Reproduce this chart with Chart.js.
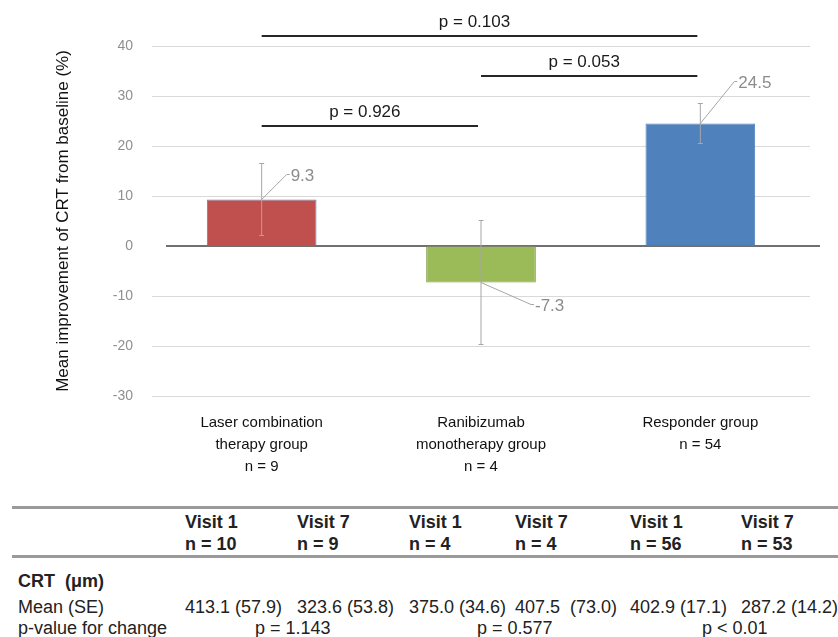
<!DOCTYPE html>
<html>
<head>
<meta charset="utf-8">
<script src="https://cdn.jsdelivr.net/npm/chart.js@4.4.1/dist/chart.umd.min.js"></script>
<style>
  body { margin: 0; background: #fff; font-family: "Liberation Sans", Arial, sans-serif; }
  #wrap { position: relative; width: 838px; height: 637px; overflow: hidden; }
  #chart { position: absolute; left: 0; top: 0; }
  table.crt { position: absolute; left: 12px; top: 506px; width: 826px; border-collapse: collapse;
              table-layout: fixed; font-size: 18px; color: #222; }
  table.crt th, table.crt td { padding: 0; text-align: left; line-height: 22px; white-space: nowrap; }
  table.crt thead th { border-top: 3px solid #9a9a9a; border-bottom: 3px solid #9a9a9a; padding: 2px 0 0 0; }
  table.crt td.lab { padding-left: 6px; }
  table.crt tr.crtrow td { padding-top: 12px; font-weight: bold; }
  table.crt tr.meanrow td { padding-top: 4px; }
  table.crt tr.prow td { line-height: 21px; }
</style>
</head>
<body>
<div id="wrap">
  <canvas id="chart" width="838" height="500"></canvas>
  <table class="crt" id="crtTable"></table>
</div>
<script>
// chart data
const categories = [
  ["Laser combination", "therapy group", "n = 9"],
  ["Ranibizumab", "monotherapy group", "n = 4"],
  ["Responder group", "n = 54"]
];
const meanImprovement = [9.3, -7.3, 24.5];
const standardErrors = [7.2, 12.4, 4.0];
const barColors = ["#c0504d", "#9bbb59", "#4f81bd"];
const barBorders = ["#5f7fc0", "#7d9a48", "#4f81bd"];
const comparisons = [
  { from: 0, to: 2, label: "p = 0.103" },
  { from: 1, to: 2, label: "p = 0.053" },
  { from: 0, to: 1, label: "p = 0.926" }
];

// table data
const visitColumns = [
  ["Visit 1", "n = 10"], ["Visit 7", "n = 9"],
  ["Visit 1", "n = 4"], ["Visit 7", "n = 4"],
  ["Visit 1", "n = 56"], ["Visit 7", "n = 53"]
];
const crtMeanSE = ["413.1 (57.9)", "323.6 (53.8)", "375.0 (34.6)", "407.5\u00a0 (73.0)", "402.9 (17.1)", "287.2 (14.2)"];
const changePValues = ["p = 1.143", "p = 0.577", "p < 0.01"];

const FONT = '"Liberation Sans", Arial, sans-serif';

// error bars, leader labels, zero line and p-value brackets
const annotate = {
  id: "annotate",
  beforeDatasetsDraw(chart) {
    const { ctx, chartArea, scales: { y } } = chart;
    const y0 = y.getPixelForValue(0);
    ctx.save();
    ctx.strokeStyle = "#404040";
    ctx.lineWidth = 1.5;
    ctx.beginPath();
    ctx.moveTo(chartArea.left + 14, y0);
    ctx.lineTo(chartArea.right + 10, y0);
    ctx.stroke();
    ctx.restore();
  },
  afterDatasetsDraw(chart, args, opts) {
    const { ctx, scales: { x, y } } = chart;
    const bars = chart.getDatasetMeta(0).data;
    ctx.save();
    bars.forEach((bar, i) => {
      const v = meanImprovement[i], se = standardErrors[i];
      const hi = y.getPixelForValue(v + se), lo = y.getPixelForValue(v - se);
      ctx.strokeStyle = "#a6a6a6";
      ctx.lineWidth = 1;
      ctx.beginPath();
      ctx.moveTo(bar.x, hi); ctx.lineTo(bar.x, lo);
      ctx.moveTo(bar.x - 2.5, hi); ctx.lineTo(bar.x + 2.5, hi);
      ctx.moveTo(bar.x - 2.5, lo); ctx.lineTo(bar.x + 2.5, lo);
      ctx.stroke();

      const [dx, dy] = opts.labelOffsets[i];
      const ex = bar.x + dx, ey = bar.y + dy;
      ctx.beginPath();
      ctx.moveTo(bar.x, bar.y);
      ctx.lineTo(ex, ey);
      ctx.lineTo(ex + 3, ey);
      ctx.stroke();
      ctx.fillStyle = "#8c8c8c";
      ctx.font = "17px " + FONT;
      ctx.textAlign = "left";
      ctx.textBaseline = "middle";
      ctx.fillText(v.toFixed(1), ex + 4, ey + 2);
    });

    comparisons.forEach((c, i) => {
      const ly = y.getPixelForValue(opts.bracketLevels[i]);
      const x1 = x.getPixelForValue(c.from), x2 = x.getPixelForValue(c.to) - 3;
      ctx.strokeStyle = "#262626";
      ctx.lineWidth = 2;
      ctx.beginPath();
      ctx.moveTo(x1, ly); ctx.lineTo(x2, ly);
      ctx.stroke();
      ctx.fillStyle = "#1a1a1a";
      ctx.font = "17px " + FONT;
      ctx.textAlign = "center";
      ctx.textBaseline = "alphabetic";
      ctx.fillText(c.label, (x1 + x2) / 2 - 5, ly - 9);
    });
    ctx.restore();
  }
};

new Chart(document.getElementById("chart"), {
  type: "bar",
  data: {
    labels: categories,
    datasets: [{
      data: meanImprovement,
      backgroundColor: barColors,
      borderColor: barBorders,
      borderWidth: 1,
      barPercentage: 1,
      categoryPercentage: 0.5
    }]
  },
  options: {
    responsive: false,
    animation: false,
    font: { family: FONT },
    layout: { padding: { top: 46, right: 28, left: 0, bottom: 0 } },
    plugins: {
      legend: { display: false },
      tooltip: { enabled: false },
      annotate: {
        labelOffsets: [[25, -25], [50, 22], [34, -42]],
        bracketLevels: [42, 34, 24]
      }
    },
    scales: {
      x: {
        grid: { display: false, drawTicks: false },
        border: { display: false },
        ticks: {
          color: "#111",
          font: { family: FONT, size: 15, lineHeight: "22px" },
          padding: 16,
          maxRotation: 0,
          autoSkip: false
        },
        afterFit(s) { s.height = 104; }
      },
      y: {
        min: -30,
        max: 40,
        ticks: { stepSize: 10, color: "#8f8f8f", font: { family: FONT, size: 14 }, padding: 19 },
        grid: {
          drawTicks: false,
          color: c => (c.tick && c.tick.value === 0 ? "rgba(0,0,0,0)" : "#d9d9d9")
        },
        border: { display: false },
        title: {
          display: true,
          text: "Mean improvement of CRT from baseline (%)",
          color: "#111",
          font: { family: FONT, size: 17 },
          padding: { top: 53, bottom: 0 }
        },
        afterFit(s) { s.width = 152; }
      }
    }
  },
  plugins: [annotate]
});

// table below the chart
const colWidths = [173, 112, 112, 106, 115, 111, 97];
const table = document.getElementById("crtTable");
const cg = document.createElement("colgroup");
colWidths.forEach(w => { const c = document.createElement("col"); c.style.width = w + "px"; cg.appendChild(c); });
table.appendChild(cg);

const thead = document.createElement("thead");
const hr = document.createElement("tr");
hr.appendChild(document.createElement("th"));
visitColumns.forEach(v => {
  const th = document.createElement("th");
  th.innerHTML = v.join("<br>");
  hr.appendChild(th);
});
hr.appendChild(document.createElement("th"));
thead.appendChild(hr);
table.appendChild(thead);

const tbody = document.createElement("tbody");
const r1 = document.createElement("tr");
r1.className = "crtrow";
r1.innerHTML = '<td class="lab" colspan="7">CRT&nbsp; (\u03bcm)</td>';
tbody.appendChild(r1);

const r2 = document.createElement("tr");
r2.className = "meanrow";
r2.innerHTML = '<td class="lab">Mean (SE)</td>' + crtMeanSE.map(s => "<td>" + s + "</td>").join("") + "<td></td>";
tbody.appendChild(r2);

const pPad = [70, 68, 72];
const r3 = document.createElement("tr");
r3.className = "prow";
r3.innerHTML = '<td class="lab">p-value for change</td>' +
  changePValues.map((p, i) => '<td colspan="2" style="padding-left:' + pPad[i] + 'px">' + p + "</td>").join("") +
  "<td></td>";
tbody.appendChild(r3);
table.appendChild(tbody);
</script>
</body>
</html>
